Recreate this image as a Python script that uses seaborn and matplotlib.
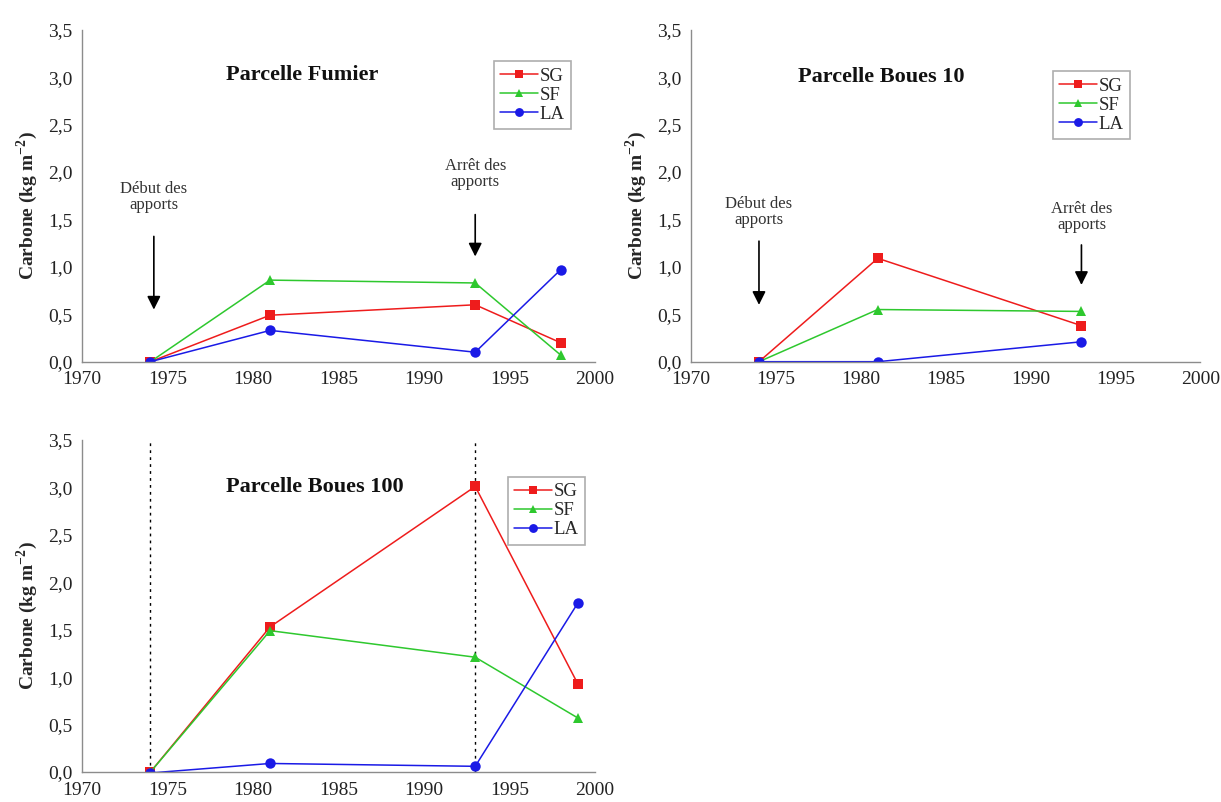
import pandas as pd
from matplotlib import pyplot as plt
import numpy as np
import seaborn as sns

# --- data ---
series = ["SG", "SF", "LA"]

fumier_years = [1974, 1981, 1993, 1998]
fumier_sg = [0.00, 0.49, 0.60, 0.20]
fumier_sf = [0.00, 0.86, 0.83, 0.07]
fumier_la = [0.00, 0.33, 0.10, 0.97]

boues10_years = [1974, 1981, 1993]
boues10_sg = [0.00, 1.09, 0.38]
boues10_sf = [0.00, 0.55, 0.53]
boues10_la = [0.00, 0.00, 0.21]

boues100_years = [1974, 1981, 1993, 1999]
boues100_sg = [0.00, 1.53, 3.01, 0.93]
boues100_sf = [0.00, 1.49, 1.21, 0.57]
boues100_la = [-0.01, 0.09, 0.06, 1.78]

yticks = [0.0, 0.5, 1.0, 1.5, 2.0, 2.5, 3.0, 3.5]
xticks = [1970, 1975, 1980, 1985, 1990, 1995, 2000]

sns.set_style("white")
plt.rcParams["font.family"] = ["Liberation Serif", "DejaVu Serif"]
plt.rcParams["mathtext.fontset"] = "custom"
plt.rcParams["mathtext.rm"] = "Liberation Serif"
plt.rcParams["mathtext.bf"] = "Liberation Serif:bold"

palette = {"SG": "#ee1c1c", "SF": "#2ec82e", "LA": "#1a1ae6"}
markers = {"SG": "s", "SF": "^", "LA": "o"}


def make_df(years, sg, sf, la):
    rows = []
    for name, vals in zip(series, [sg, sf, la]):
        for yr, v in zip(years, vals):
            rows.append({"year": yr, "carbone": v, "serie": name})
    return pd.DataFrame(rows)


def style_axes(ax):
    ax.set_xlim(1970, 2000)
    ax.set_ylim(0, 3.5)
    ax.set_xticks(xticks)
    ax.set_yticks(yticks)
    ax.set_yticklabels([f"{t:.1f}".replace(".", ",") for t in yticks])
    for s in ["top", "right"]:
        ax.spines[s].set_visible(False)
    for s in ["left", "bottom"]:
        ax.spines[s].set_color("#8c8c8c")
        ax.spines[s].set_linewidth(1.0)
    ax.tick_params(axis="both", direction="out", length=4, width=1,
                   color="#8c8c8c", labelsize=14, pad=3, labelcolor="#222222")
    ax.set_xlabel("")
    ax.set_ylabel(r"Carbone (kg m$^{\mathbf{-2}}$)", fontsize=14, fontweight="bold")
    ax.yaxis.set_label_coords(-0.082, 0.47)


def draw(ax, df, title, title_xy, leg_anchor):
    sns.lineplot(data=df, x="year", y="carbone", hue="serie", style="serie",
                 hue_order=series, style_order=series, palette=palette,
                 markers=markers, dashes=False, markersize=7.5, linewidth=1.1,
                 markeredgewidth=0, ax=ax)
    style_axes(ax)
    ax.text(title_xy[0], title_xy[1], title, ha="center", va="center",
            fontsize=16, fontweight="bold", color="#111111")
    leg = ax.legend(loc="upper left", bbox_to_anchor=leg_anchor, frameon=True,
                    fancybox=False, fontsize=13.5, handlelength=2.0,
                    handletextpad=0.1, borderpad=0.35, labelspacing=0.1,
                    borderaxespad=0, markerscale=0.85)
    leg.get_frame().set_edgecolor("#9a9a9a")
    leg.get_frame().set_linewidth(1.2)


def arrow(ax, x, text_y, y0, y1, text):
    ax.text(x, text_y, text, ha="center", va="center", fontsize=12,
            color="#333333", linespacing=1.0)
    ax.annotate("", xy=(x, y1), xytext=(x, y0),
                arrowprops=dict(arrowstyle="-|>", color="black", lw=1.2,
                                mutation_scale=20))


fig = plt.figure(figsize=(12.21, 8.02), dpi=100)
ax1 = fig.add_axes([0.0672, 0.549, 0.420, 0.414])
ax2 = fig.add_axes([0.566, 0.549, 0.417, 0.414])
ax3 = fig.add_axes([0.0672, 0.0374, 0.420, 0.414])

draw(ax1, make_df(fumier_years, fumier_sg, fumier_sf, fumier_la),
     "Parcelle Fumier", (1982.9, 3.02), (0.803, 0.905))
arrow(ax1, 1974.2, 1.74, 1.35, 0.52, "Début des\napports")
arrow(ax1, 1993, 1.98, 1.58, 1.08, "Arrêt des\napports")

draw(ax2, make_df(boues10_years, boues10_sg, boues10_sf, boues10_la),
     "Parcelle Boues 10", (1981.2, 3.0), (0.71, 0.875))
arrow(ax2, 1974.0, 1.58, 1.30, 0.57, "Début des\napports")
arrow(ax2, 1993, 1.53, 1.26, 0.78, "Arrêt des\napports")

draw(ax3, make_df(boues100_years, boues100_sg, boues100_sf, boues100_la),
     "Parcelle Boues 100", (1983.6, 3.0), (0.83, 0.89))
ax3.axvline(1974, color="black", linestyle=(0, (2, 3)), lw=1.0, zorder=0)
ax3.axvline(1993, color="black", linestyle=(0, (2, 3)), lw=1.0, zorder=0)

fig.savefig("out.png", dpi=100)
